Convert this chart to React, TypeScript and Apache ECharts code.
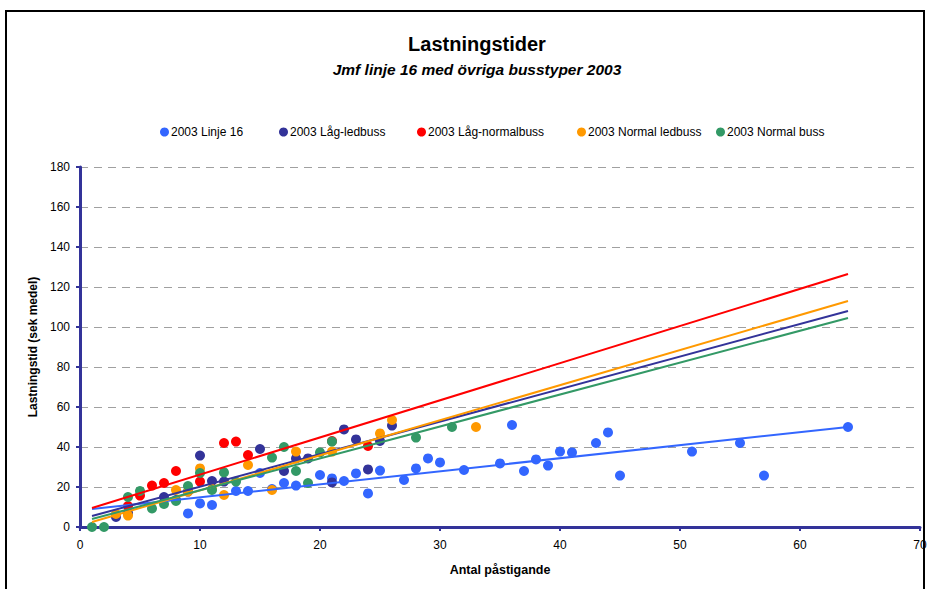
import React, { useEffect, useRef } from "react";
import * as echarts from "echarts";

const seriesNames = [
  "2003 Linje 16",
  "2003 Låg-ledbuss",
  "2003 Låg-normalbuss",
  "2003 Normal ledbuss",
  "2003 Normal buss",
];
const seriesColors = ["#3366FF", "#333399", "#FF0000", "#FF9900", "#339966"];

const linje16: [number, number][] = [
  [9, 6.8], [10, 11.8], [11, 11], [13, 18], [14, 18], [15, 27], [16, 19], [17, 22],
  [18, 20.7], [20, 26], [21, 24.3], [22, 23], [23, 26.8], [24, 16.8], [25, 28.2],
  [27, 23.5], [28, 29.3], [29, 34.3], [30, 32.3], [32, 28.5], [35, 31.8], [36, 51],
  [37, 28], [38, 33.8], [39, 30.7], [40, 37.7], [41, 37.3], [43, 42], [44, 47.3],
  [45, 25.7], [51, 37.7], [55, 42], [57, 25.7], [64, 50],
];
const lagLedbuss: [number, number][] = [
  [3, 5], [4, 7], [7, 15], [8, 13.5], [9, 17.7], [10, 35.7], [11, 23], [12, 22.7],
  [15, 39], [17, 28], [18, 34.3], [19, 34.3], [21, 22.3], [22, 48.8], [23, 43.8],
  [24, 28.8], [25, 43], [26, 50.7],
];
const lagNormalbuss: [number, number][] = [
  [4, 10.5], [5, 15.7], [6, 20.7], [7, 22], [8, 28], [10, 22.7], [12, 42], [13, 42.7],
  [14, 36], [21, 43], [24, 40.5],
];
const normalLedbuss: [number, number][] = [
  [3, 6.5], [4, 5.7], [8, 18.5], [9, 17.7], [10, 29.3], [11, 19], [12, 16], [14, 31],
  [16, 18.5], [18, 37.7], [21, 37.7], [25, 46.8], [26, 53.5], [33, 50],
];
const normalBuss: [number, number][] = [
  [1, 0], [2, 0], [4, 15], [5, 18], [6, 9.3], [7, 11.5], [8, 13], [9, 20.5], [10, 27],
  [11, 18.5], [12, 27.3], [13, 22.7], [16, 34.7], [17, 40], [18, 28], [19, 22],
  [20, 37.3], [21, 42.7], [28, 44.7], [31, 50],
];
const scatterData = [linje16, lagLedbuss, lagNormalbuss, normalLedbuss, normalBuss];

// Trend line endpoints (x = 1 and x = 64)
const trendLinje16: [number, number][] = [[1, 9], [64, 50]];
const trendLagLedbuss: [number, number][] = [[1, 5.5], [64, 108]];
const trendLagNormalbuss: [number, number][] = [[1, 9.5], [64, 126.5]];
const trendNormalLedbuss: [number, number][] = [[1, 2.5], [64, 113]];
const trendNormalBuss: [number, number][] = [[1, 4], [64, 104.5]];
const trendData = [trendLinje16, trendLagLedbuss, trendLagNormalbuss, trendNormalLedbuss, trendNormalBuss];

const legendLeft = [155, 274, 412, 572, 711];

const FONT = "'Liberation Sans', Arial, sans-serif";

export default function App() {
  const ref = useRef<HTMLDivElement>(null);
  useEffect(() => {
    if (!ref.current) return;
    const chart = echarts.init(ref.current, null, { renderer: "svg" });
    const series: any[] = [];
    scatterData.forEach((d, i) => {
      series.push({
        name: seriesNames[i],
        type: "scatter",
        data: d,
        symbol: "circle",
        symbolSize: 10,
        itemStyle: { color: seriesColors[i], opacity: 1 },
        z: 2,
      });
    });
    trendData.forEach((d, i) => {
      series.push({
        name: "trend" + i,
        type: "line",
        data: d,
        showSymbol: false,
        symbol: "none",
        lineStyle: { color: seriesColors[i], width: 2 },
        z: 3,
        silent: true,
      });
    });
    chart.setOption({
      animation: false,
      textStyle: { fontFamily: FONT },
      title: [
        {
          text: "Lastningstider",
          left: 472,
          textAlign: "center",
          top: 29,
          textStyle: { fontSize: 20, fontWeight: "bold", color: "#000", fontFamily: FONT },
        },
        {
          text: "Jmf linje 16 med övriga busstyper 2003",
          left: 472,
          textAlign: "center",
          top: 56,
          textStyle: { fontSize: 15.5, fontWeight: "bold", fontStyle: "italic", color: "#000", fontFamily: FONT },
        },
      ],
      legend: seriesNames.map((n, i) => ({
        data: [n],
        left: legendLeft[i],
        top: 121,
        icon: "circle",
        itemWidth: 9,
        itemHeight: 9,
        itemGap: 0,
        textStyle: { fontSize: 12, color: "#000", fontFamily: FONT, padding: [0, 0, 0, -3] },
        selectedMode: false,
      })),
      grid: { left: 80, right: 10, top: 167, bottom: 62, containLabel: false },
      xAxis: {
        type: "value",
        min: 0,
        max: 70,
        interval: 10,
        name: "Antal påstigande",
        nameLocation: "middle",
        nameGap: 36,
        nameTextStyle: { fontSize: 12.5, fontWeight: "bold", color: "#000", fontFamily: FONT },
        axisLine: { show: true, onZero: false, lineStyle: { color: "#333399", width: 3 } },
        axisTick: { show: true, inside: false, length: 4, lineStyle: { color: "#333399", width: 2 } },
        axisLabel: { fontSize: 12, color: "#000", margin: 12, fontFamily: FONT },
        splitLine: { show: false },
      },
      yAxis: {
        type: "value",
        min: 0,
        max: 180,
        interval: 20,
        name: "Lastningstid (sek medel)",
        nameLocation: "middle",
        nameGap: 36,
        nameRotate: 90,
        nameTextStyle: { fontSize: 12, fontWeight: "bold", color: "#000", fontFamily: FONT },
        axisLine: { show: true, onZero: false, lineStyle: { color: "#333399", width: 3 } },
        axisTick: { show: true, inside: false, length: 4, lineStyle: { color: "#333399", width: 2 } },
        axisLabel: { fontSize: 12, color: "#000", margin: 10, fontFamily: FONT },
        splitLine: { show: true, lineStyle: { color: "#a0a0a0", type: [8, 6], width: 1 } },
      },
      graphic: [
        {
          type: "rect",
          shape: { x: 6, y: 11, width: 918, height: 600 },
          style: { fill: "none", stroke: "#000", lineWidth: 2 },
          silent: true,
          z: -1,
        },
      ],
      series,
    });
    return () => chart.dispose();
  }, []);
  return (
    <div
      ref={ref}
      style={{ position: "fixed", left: 0, top: 0, width: 930, height: 589, background: "#fff" }}
    />
  );
}
